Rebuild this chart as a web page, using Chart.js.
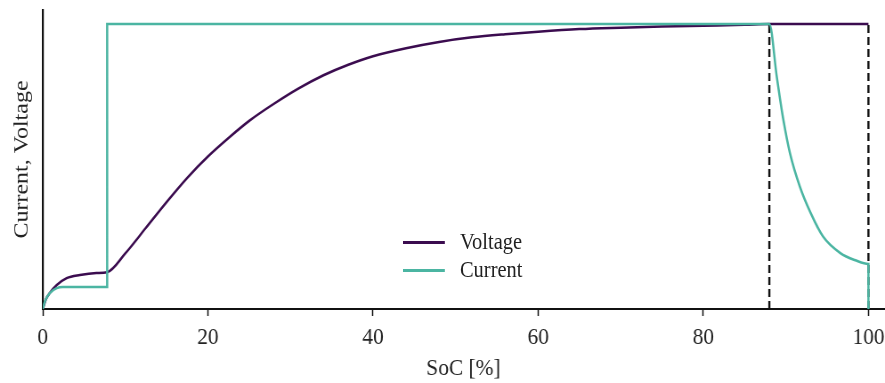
<!DOCTYPE html>
<html>
<head>
<meta charset="utf-8">
<script src="https://cdn.jsdelivr.net/npm/chart.js@4/dist/chart.umd.min.js"></script>
<style>
  body { margin: 0; background: #fff; }
  #wrap { position: relative; width: 885px; height: 383px; overflow: hidden; }
  #chart { width: 885px; height: 383px; display: block; }
  #legend { position: absolute; left: 403px; top: 228px; font-family: "Liberation Serif", serif; font-size: 23px; color: #222;
            transform: scaleX(0.89); transform-origin: left top; }
  .item { height: 28px; display: flex; align-items: center; white-space: nowrap; }
  .swatch { width: 47px; height: 3px; margin-right: 17px; }
</style>
</head>
<body>
<div id="wrap">
  <!-- drawn wider then squeezed, the reference is horizontally compressed -->
  <canvas id="chart" width="994" height="383" style="width:885px;height:383px"></canvas>
  <div id="legend">
    <div class="item"><span class="swatch" style="background:#3b0c4f"></span>Voltage</div>
    <div class="item"><span class="swatch" style="background:#4bb5a2"></span>Current</div>
  </div>
</div>
<script>
// Voltage curve (SoC in %, normalised value)
var voltageSoc = [0, 0.4, 0.85, 1.7, 2.9, 4.5, 6.5, 7.8, 10, 12.5, 15, 17.5, 20, 22.5, 25, 28, 31, 34, 37, 40, 44, 48, 52, 56, 60, 65, 70, 75, 80, 85, 88, 100];
var voltageVal = [0, 0.035, 0.056, 0.084, 0.108, 0.119, 0.126, 0.129, 0.195, 0.285, 0.375, 0.46, 0.535, 0.6, 0.66, 0.72, 0.774, 0.82, 0.857, 0.887, 0.915, 0.937, 0.953, 0.964, 0.973, 0.982, 0.987, 0.991, 0.994, 0.997, 1, 1];

// Current curve
var currentSoc = [0, 0.3, 0.85, 1.7, 2.4, 7.8, 7.8, 88, 88.9, 89.7, 90.5, 91.7, 93, 94.5, 96.6, 98.5, 100, 100];
var currentVal = [0, 0.03, 0.056, 0.073, 0.077, 0.077, 1, 1, 0.815, 0.663, 0.546, 0.429, 0.337, 0.254, 0.196, 0.17, 0.158, 0];

// dashed markers
var markerSoc = [88, 100];

var xTicks = [0, 20, 40, 60, 80, 100];

function toPoints(xs, ys) {
    return xs.map(function (x, i) { return { x: x, y: ys[i] }; });
}

var datasets = [
    {
        label: 'Current',
        data: toPoints(currentSoc, currentVal),
        borderColor: '#4bb5a2',
        borderWidth: 2.5,
        cubicInterpolationMode: 'monotone',
        pointRadius: 0,
        order: 0
    },
    {
        label: 'Voltage',
        data: toPoints(voltageSoc, voltageVal),
        borderColor: '#3b0c4f',
        borderWidth: 2.5,
        cubicInterpolationMode: 'monotone',
        pointRadius: 0,
        order: 1
    }
];

markerSoc.forEach(function (s) {
    datasets.push({
        label: 'marker',
        data: [{ x: s, y: 0 }, { x: s, y: 1 }],
        borderColor: '#111',
        borderWidth: 2.4,
        borderDash: [8, 4],
        pointRadius: 0,
        order: 2
    });
});

var serif = 'Liberation Serif';

var ctx = document.getElementById('chart').getContext('2d');
var chart = new Chart(ctx, {
    type: 'line',
    data: { datasets: datasets },
    options: {
        responsive: false,
        animation: false,
        layout: { padding: { top: 10, right: 1, left: 0, bottom: 0 } },
        scales: {
            x: {
                type: 'linear',
                min: 0,
                max: 101.9,
                afterBuildTicks: function (scale) {
                    scale.ticks = xTicks.map(function (v) { return { value: v }; });
                },
                afterFit: function (scale) {
                    scale.height = 74;
                    // labels may hang over the edges, don't shrink the plot for them
                    scale.paddingLeft = 0;
                    scale.paddingRight = 0;
                },
                border: { color: '#111', width: 2 },
                grid: { drawOnChartArea: false, drawTicks: true, tickLength: 7, color: '#111', tickWidth: 1.5 },
                ticks: { color: '#222', font: { family: serif, size: 24 }, padding: 7, maxRotation: 0 },
                title: { display: true, text: 'SoC [%]', color: '#222', font: { family: serif, size: 24 }, padding: { top: 0, bottom: 0 } }
            },
            y: {
                min: 0,
                max: 1.049,
                afterFit: function (scale) {
                    scale.width = 48;
                    scale.paddingTop = 0;
                    scale.paddingBottom = 0;
                },
                border: { color: '#111', width: 2.2 },
                grid: { display: false },
                ticks: { display: false },
                title: { display: true, text: 'Current, Voltage', color: '#222', font: { family: serif, size: 24 }, padding: { top: 10, bottom: 0 } }
            }
        },
        plugins: {
            legend: { display: false },
            tooltip: { enabled: false }
        }
    }
});
</script>
</body>
</html>
